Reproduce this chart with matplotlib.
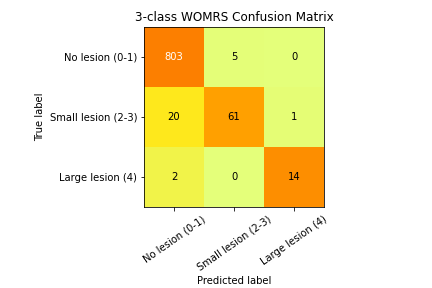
import numpy as np
import matplotlib
matplotlib.use('Agg')
import matplotlib.pyplot as plt

classes = ['No lesion (0-1)', 'Small lesion (2-3)', 'Large lesion (4)']
counts = np.array([[803, 5, 0],
                   [20, 61, 1],
                   [2, 0, 14]])

# colour by row-normalised values, annotate with raw counts
norm = counts / counts.sum(axis=1, keepdims=True)

fig = plt.figure(figsize=(6, 4), dpi=72)
ax = fig.add_axes([144 / 432, 81 / 288, 180 / 432, 180 / 288])
ax.imshow(norm, interpolation='nearest', cmap=plt.cm.Wistia, aspect='auto')
ax.set_title('3-class WOMRS Confusion Matrix', fontsize=12)

ticks = np.arange(len(classes))
ax.set_xticks(ticks)
ax.set_xticklabels(classes, rotation=35, ha='center')
ax.set_yticks(ticks)
ax.set_yticklabels(classes)

thresh = counts.max() / 2.
for i in range(counts.shape[0]):
    for j in range(counts.shape[1]):
        ax.text(j, i, format(counts[i, j], 'd'),
                ha='center', va='center',
                color='white' if counts[i, j] > thresh else 'black')

ax.set_ylabel('True label')
ax.set_xlabel('Predicted label')

fig.savefig('out.png', dpi=72)
